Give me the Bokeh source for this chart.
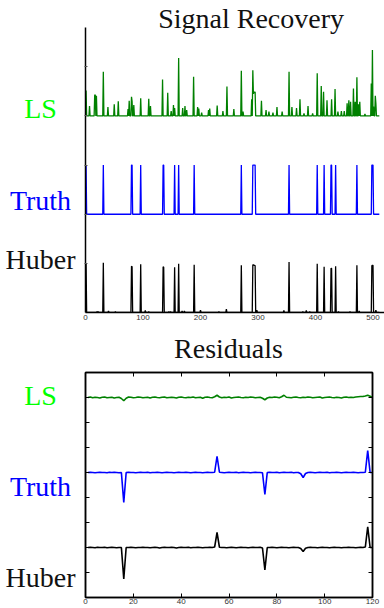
import numpy as np
from bokeh.plotting import figure
from bokeh.layouts import column, row
from bokeh.models import FixedTicker, LinearAxis, Range1d
from bokeh.core.properties import value
from bokeh.embed import file_html
from bokeh.resources import INLINE

# ---------------- data: signal recovery (length 512) ----------------
N = 512
truth_idx = [1, 31, 80, 81, 96, 135, 136, 155, 162, 189, 271, 291, 292, 293, 294, 295,
             354, 403, 415, 427, 428, 435, 472, 498, 499, 500]
truth_val = [1.0] * len(truth_idx)

huber_idx = [1, 31, 80, 81, 96, 135, 136, 155, 162, 189, 271, 291, 292, 293, 294, 295,
             354, 403, 415, 427, 428, 435, 472, 498, 499, 500,
             20, 22, 40, 52, 104, 110, 145, 148, 168, 172, 200, 232, 245, 298, 345,
             378, 384, 390, 440, 460, 476, 505]
huber_val = [1.0, 1.01, 0.94, 0.93, 0.98, 0.93, 0.92, 0.92, 0.99, 0.97, 0.96, 0.97, 0.97,
             0.96, 0.96, 0.95, 1.03, 0.99, 0.93, 0.9, 0.9, 0.94, 0.96, 0.95, 0.96, 0.96,
             0.02, 0.02, 0.03, 0.02, 0.04, 0.02, 0.02, 0.02, 0.03, 0.03, 0.05, 0.02, 0.07,
             0.05, 0.04, 0.02, 0.04, 0.02, 0.02, 0.02, 0.03, 0.05]

ls_idx = [1, 7, 16, 17, 19, 31, 39, 50, 57, 74, 76, 80, 81, 84, 96, 110, 113, 134, 143,
          149, 153, 155, 162, 169, 173, 176, 188, 195, 197, 202, 214, 216, 229, 239, 246,
          258, 271, 274, 289, 291, 292, 293, 294, 295, 306, 314, 319, 326, 333, 342, 354,
          359, 367, 373, 380, 387, 395, 403, 410, 414, 420, 428, 434, 439, 445, 450, 455,
          458, 461, 466, 469, 472, 475, 477, 486, 497, 499, 501, 504, 505]
ls_val = [0.52, 0.2, 0.42, 0.43, 0.41, 0.9, 0.18, 0.24, 0.3, 0.14, 0.31, 0.39, 0.3, 0.22,
          0.36, 0.35, 0.2, 0.74, 0.47, 0.1, 0.22, 0.16, 1.18, 0.16, 0.2, 0.12, 0.8, 0.18,
          0.15, 0.07, 0.12, 0.15, 0.21, 0.1, 0.6, 0.14, 0.92, 0.09, 0.34, 0.93, 0.45, 0.49,
          0.47, 0.49, 0.31, 0.12, 0.09, 0.07, 0.18, 0.09, 0.9, 0.18, 0.16, 0.34, 0.05, 0.2,
          0.05, 0.87, 0.61, 0.49, 0.32, 0.34, 0.55, 0.09, 0.1, 0.1, 0.26, 0.32, 0.29, 0.56,
          0.29, 0.79, 0.24, 0.29, 0.04, 0.66, 1.34, 0.19, 0.41, 0.26]

sig_x_ticks = [0, 100, 200, 300, 400, 500]

# ---------------- data: residuals (x = 1..120) ----------------
res_x = list(range(1, 121))
ls_res = [0.00, 0.02, -0.01, 0.01, 0.00, -0.02, 0.01, 0.02, -0.01, 0.00,
          0.01, -0.02, 0.00, 0.01, -0.04, -0.13, -0.03, 0.02, 0.01, -0.01,
          0.00, 0.02, 0.01, -0.01, 0.00, 0.01, -0.02, 0.01, 0.02, 0.00,
          -0.01, 0.01, 0.02, -0.01, 0.00, 0.01, 0.00, -0.02, 0.01, 0.02,
          0.00, -0.01, 0.01, 0.00, 0.02, -0.01, 0.00, 0.01, -0.03, 0.01,
          0.02, 0.00, -0.01, 0.03, 0.09, 0.02, -0.01, 0.01, 0.00, 0.02,
          -0.02, 0.00, 0.01, 0.02, 0.00, -0.01, 0.01, 0.00, 0.02, 0.01,
          -0.01, 0.00, 0.01, -0.03, -0.09, -0.02, 0.01, 0.00, 0.02, 0.01,
          -0.01, 0.03, 0.09, 0.01, 0.00, -0.01, 0.01, 0.02, 0.00, -0.01,
          0.01, 0.00, 0.02, 0.01, -0.01, 0.00, 0.01, 0.02, -0.02, 0.00,
          0.01, 0.02, 0.00, -0.01, 0.01, 0.00, -0.02, 0.01, 0.02, 0.00,
          0.01, 0.00, 0.02, 0.03, 0.04, 0.04, 0.06, 0.09, 0.05, 0.00]
truth_res = [0.00, 0.01, 0.00, -0.01, 0.00, 0.01, 0.00, 0.00, -0.01, 0.01,
             0.00, 0.01, 0.00, -0.01, 0.00, -1.20, 0.00, 0.01, 0.00, 0.00,
             -0.01, 0.00, 0.01, 0.00, 0.00, 0.01, -0.01, 0.00, 0.00, 0.01,
             0.00, -0.01, 0.00, 0.01, 0.00, 0.00, -0.01, 0.00, 0.01, 0.00,
             0.00, 0.01, 0.00, -0.01, 0.00, 0.01, 0.00, 0.00, -0.01, 0.00,
             0.01, 0.00, 0.00, 0.01, 0.65, 0.01, 0.00, -0.01, 0.00, 0.01,
             0.00, 0.00, 0.01, -0.01, 0.00, 0.01, 0.00, 0.00, -0.01, 0.00,
             0.01, 0.00, 0.00, -0.01, -0.88, 0.00, 0.01, 0.00, 0.00, 0.01,
             -0.01, 0.00, 0.01, 0.00, 0.00, 0.01, -0.01, 0.00, 0.00, -0.05,
             -0.20, -0.04, 0.00, 0.01, 0.00, -0.01, 0.00, 0.01, 0.00, 0.00,
             0.01, -0.01, 0.00, 0.00, 0.01, 0.00, -0.01, 0.00, 0.01, 0.00,
             0.00, 0.01, 0.00, -0.01, 0.00, 0.00, 0.01, 0.88, 0.00, 0.00]
huber_res = [0.00, 0.01, 0.00, -0.01, 0.01, 0.00, 0.00, 0.01, -0.01, 0.00,
             0.01, 0.00, -0.01, 0.00, 0.00, -1.26, 0.00, 0.00, 0.01, 0.00,
             -0.01, 0.00, 0.00, 0.01, 0.00, 0.00, -0.01, 0.00, 0.01, 0.00,
             -0.02, 0.00, 0.01, 0.00, 0.00, 0.01, 0.00, -0.02, 0.00, 0.01,
             0.00, 0.00, 0.01, -0.01, 0.00, 0.00, 0.01, 0.00, -0.01, 0.00,
             0.00, 0.01, 0.00, 0.02, 0.60, 0.01, 0.00, 0.00, -0.01, 0.00,
             0.01, 0.00, -0.01, 0.00, 0.01, 0.00, 0.00, -0.01, 0.00, 0.01,
             0.00, 0.00, 0.01, -0.02, -0.90, 0.00, 0.00, 0.01, 0.00, -0.01,
             0.00, 0.01, 0.00, 0.00, -0.01, 0.00, 0.01, 0.00, 0.00, -0.04,
             -0.16, -0.03, 0.00, 0.01, 0.00, 0.00, -0.01, 0.00, 0.01, 0.00,
             0.00, -0.01, 0.00, 0.01, 0.00, 0.00, -0.01, 0.00, 0.00, 0.01,
             0.00, 0.00, -0.01, 0.00, 0.01, 0.00, 0.02, 0.83, 0.00, 0.00]
res_x_ticks = [0, 20, 40, 60, 80, 100, 120]

series_names = ["LS", "Truth", "Huber"]
label_colors = ["#00ff00", "#0000ff", "#111111"]
line_colors = ["#008000", "#0000ff", "#000000"]
titles = ["Signal Recovery", "Residuals"]


def full_signal(idx, val):
    s = np.zeros(N)
    s[np.array(idx)] = np.array(val)
    return s


SERIF = "Liberation Serif"
SANS = "Liberation Sans"
FS_TITLE = "28px"
FS_LABEL = "28px"


def hide_labels(ax):
    ax.major_label_text_color = None
    ax.major_label_text_font_size = "1px"
    ax.major_label_standoff = 0


def blank_fig(width, height, x_range, y_range, **kw):
    f = figure(width=width, height=height, x_range=x_range, y_range=y_range,
               output_backend="svg", toolbar_location=None,
               x_axis_location=None, y_axis_location=None, **kw)
    f.outline_line_color = None
    f.grid.visible = False
    return f


# ---------------- top panel ----------------
Y1 = Range1d(0, 6.35)
p1 = figure(width=305, height=330, x_range=Range1d(0, 520), y_range=Y1,
            output_backend="svg", toolbar_location=None,
            min_border_left=6, min_border_right=0, min_border_top=0, min_border_bottom=18)
p1.outline_line_color = None
p1.grid.visible = False

xs = np.arange(N)
offsets1 = [4, 2, 0]
signals = [full_signal(ls_idx, ls_val), full_signal(truth_idx, truth_val),
           full_signal(huber_idx, huber_val)]
for sig, off, col in zip(signals, offsets1, line_colors):
    p1.line(xs, sig + off, line_color=col, line_width=1.3)

p1.xaxis.ticker = FixedTicker(ticks=sig_x_ticks)
p1.xaxis.minor_tick_line_color = None
p1.xaxis.major_tick_in = 0
p1.xaxis.major_tick_out = 0
p1.xaxis.major_label_standoff = 2
p1.xaxis.major_label_text_font = SANS
p1.xaxis.major_label_text_font_size = "8px"
p1.xaxis.major_label_text_color = "#333333"
p1.xaxis.axis_line_color = "black"
p1.xaxis.axis_line_width = 1.5

p1.yaxis.ticker = FixedTicker(ticks=[1, 2, 3, 4, 5])
p1.yaxis.bounds = (0, 5.8)
p1.yaxis.minor_tick_line_color = None
p1.yaxis.major_tick_in = 2
p1.yaxis.major_tick_out = 1
p1.yaxis.major_tick_line_color = "#555555"
hide_labels(p1.yaxis[0])
p1.yaxis.axis_line_color = "black"
p1.yaxis.axis_line_width = 1.5

p1.text(x=[288], y=[5.98], text=[titles[0]], text_align="center", text_baseline="middle",
        text_font=value(SERIF), text_font_size=value(FS_TITLE), text_color="#111111")

lab1 = blank_fig(79, 330, Range1d(0, 79), Y1, min_border_left=0, min_border_right=0,
                 min_border_top=0, min_border_bottom=18)
lab1.text(x=[40, 40, 40], y=[4.15, 2.27, 1.07], text=series_names, text_color=label_colors,
          text_align="center", text_baseline="middle",
          text_font=value(SERIF), text_font_size=value(FS_LABEL))

# ---------------- bottom title strip ----------------
t2 = blank_fig(384, 39, Range1d(0, 384), Range1d(0, 39), min_border=0)
t2.text(x=[228], y=[21], text=[titles[1]], text_align="center", text_baseline="middle",
        text_font=value(SERIF), text_font_size=value(FS_TITLE), text_color="#111111")

# ---------------- bottom panel ----------------
Y2 = Range1d(-2, 7)
p2 = figure(width=305, height=239, x_range=Range1d(0, 120), y_range=Y2,
            output_backend="svg", toolbar_location=None,
            min_border_left=6, min_border_right=12, min_border_top=3, min_border_bottom=11)
p2.grid.visible = False
p2.outline_line_color = "black"
p2.outline_line_width = 1.5

offsets2 = [6, 3, 0]
for res, off, col in zip([ls_res, truth_res, huber_res], offsets2, line_colors):
    p2.line(res_x, np.array(res) + off, line_color=col, line_width=1.6)

ytick_vals = [-1, 0, 1, 2, 3, 4, 5, 6]

p2.xaxis.ticker = FixedTicker(ticks=res_x_ticks)
p2.xaxis.minor_tick_line_color = None
p2.xaxis.major_tick_in = 4
p2.xaxis.major_tick_out = 0
p2.xaxis.major_label_standoff = 1
p2.xaxis.major_label_text_font = SANS
p2.xaxis.major_label_text_font_size = "8px"
p2.xaxis.major_label_text_color = "#333333"
p2.xaxis.axis_line_color = "black"
p2.xaxis.axis_line_width = 1.5

p2.yaxis.ticker = FixedTicker(ticks=ytick_vals)
p2.yaxis.minor_tick_line_color = None
p2.yaxis.major_tick_in = 4
p2.yaxis.major_tick_out = 0
hide_labels(p2.yaxis[0])
p2.yaxis.axis_line_color = "black"
p2.yaxis.axis_line_width = 1.5

right_ax = LinearAxis(ticker=FixedTicker(ticks=ytick_vals),
                      major_tick_in=4, major_tick_out=0, minor_tick_line_color=None,
                      axis_line_color="black", axis_line_width=1.5)
hide_labels(right_ax)
p2.add_layout(right_ax, "right")
top_ax = LinearAxis(ticker=FixedTicker(ticks=res_x_ticks),
                    major_tick_in=4, major_tick_out=0, minor_tick_line_color=None,
                    axis_line_color="black", axis_line_width=1.5)
hide_labels(top_ax)
p2.add_layout(top_ax, "above")

lab2 = blank_fig(79, 239, Range1d(0, 79), Y2, min_border_left=0, min_border_right=0,
                 min_border_top=3, min_border_bottom=11)
lab2.text(x=[40, 40, 40], y=[6.07, 2.45, -1.2], text=series_names, text_color=label_colors,
          text_align="center", text_baseline="middle",
          text_font=value(SERIF), text_font_size=value(FS_LABEL))

layout = column(row(lab1, p1, spacing=0), t2, row(lab2, p2, spacing=0), spacing=0)
open("out.html", "w").write(file_html(layout, INLINE))
